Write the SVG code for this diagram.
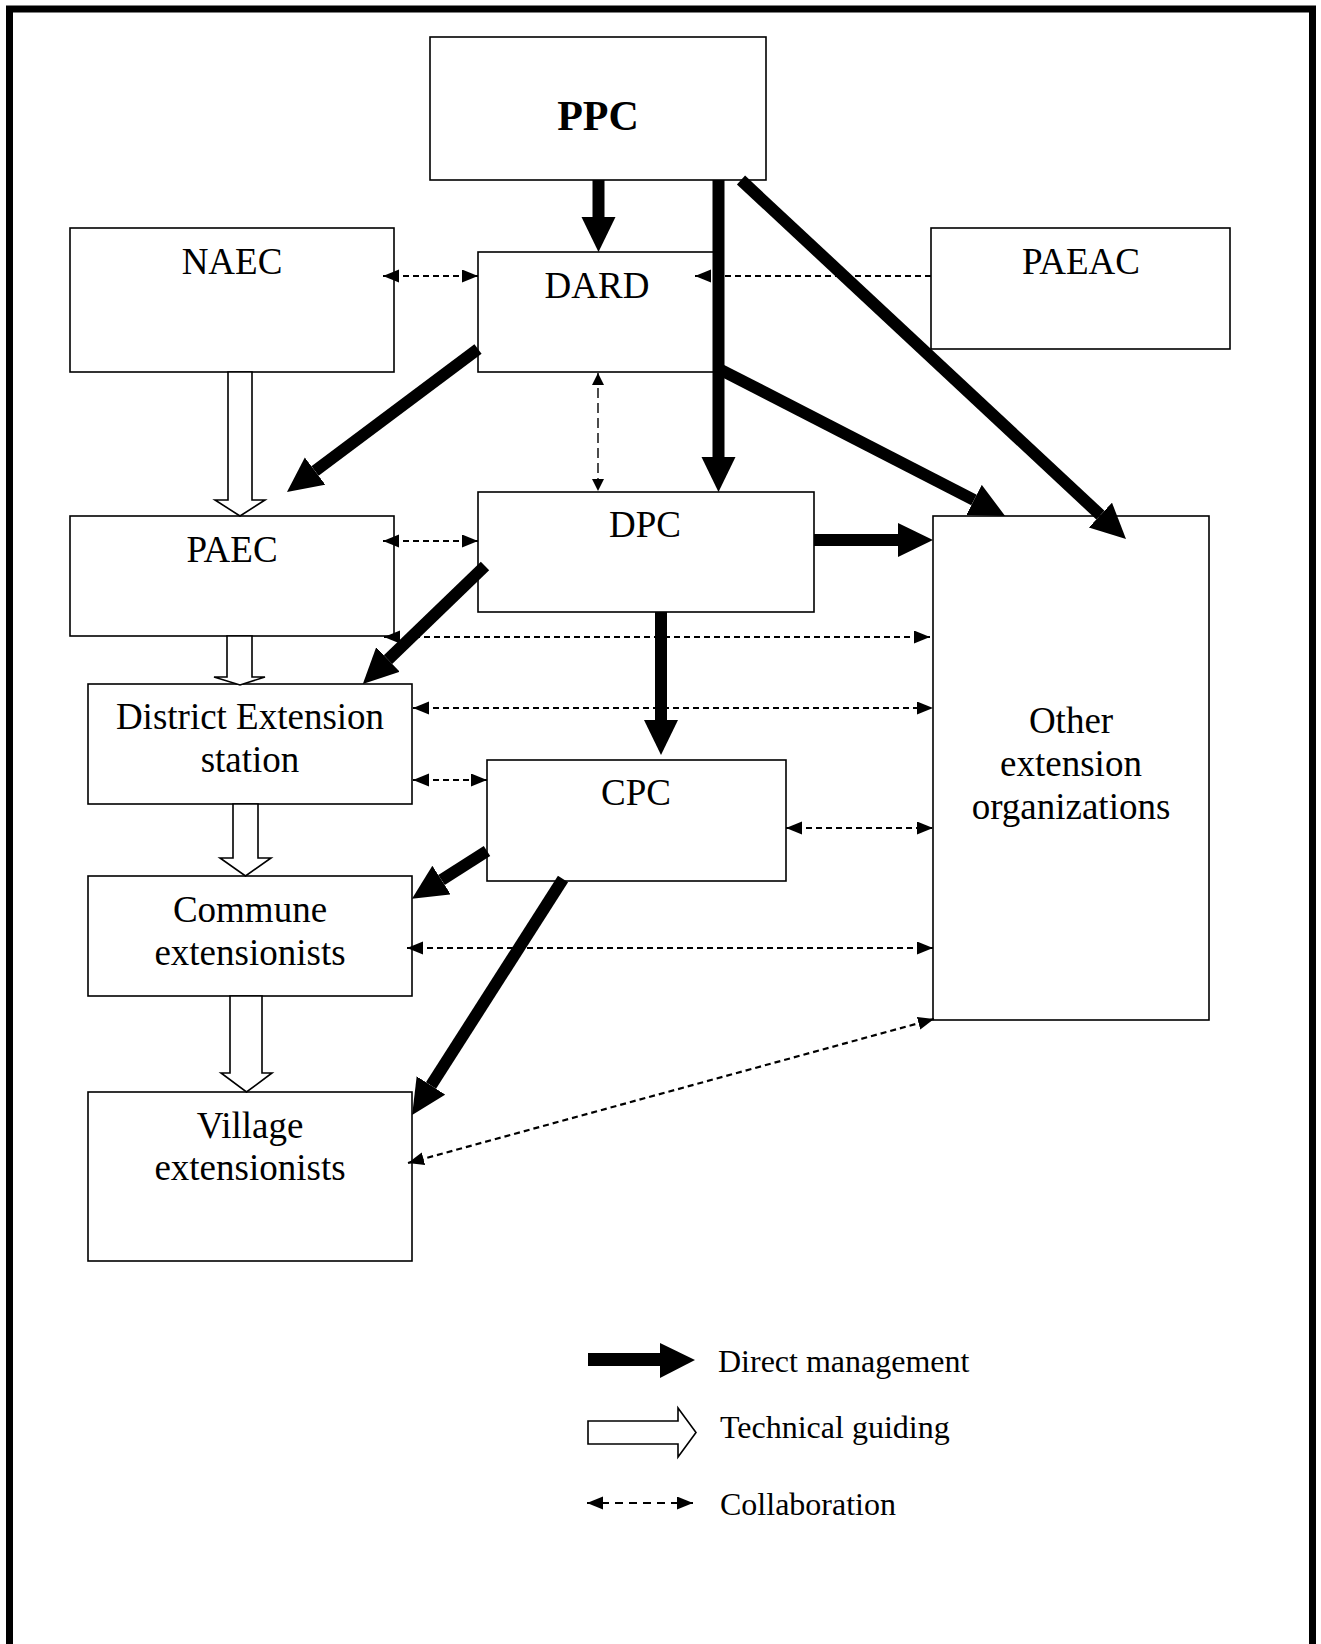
<svg xmlns="http://www.w3.org/2000/svg" width="1321" height="1644" viewBox="0 0 1321 1644">
<style>
.box{fill:#fff;stroke:#000;stroke-width:1.6}
.t{font-family:"Liberation Serif","Times New Roman",serif;font-size:37px;fill:#000;text-anchor:middle}
.tb{font-family:"Liberation Serif","Times New Roman",serif;font-size:42px;font-weight:bold;fill:#000;text-anchor:middle}
.lg{font-family:"Liberation Serif","Times New Roman",serif;font-size:32px;fill:#000}
.dm{stroke:#000;stroke-width:12;fill:none;marker-end:url(#dmh)}
.tg{fill:#fff;stroke:#000;stroke-width:1.6;stroke-linejoin:miter}
.co{stroke:#000;stroke-width:2.2;stroke-dasharray:6 4;fill:none;marker-start:url(#coh);marker-end:url(#coh)}
.co1{stroke:#000;stroke-width:2.2;stroke-dasharray:6 4;fill:none;marker-end:url(#coh)}
.cov{stroke:#000;stroke-width:1.4;stroke-dasharray:10 5;fill:none;marker-start:url(#cos);marker-end:url(#cos)}
.frame{stroke:#000;stroke-width:7;fill:none}
</style>
<defs>
<marker id="dmh" markerUnits="userSpaceOnUse" viewBox="0 0 36 35" markerWidth="36" markerHeight="35" refX="0" refY="17" orient="auto"><path d="M0,0 L35,17 L0,34 z" fill="#000"/></marker>
<marker id="coh" markerUnits="userSpaceOnUse" viewBox="0 0 17 14" markerWidth="17" markerHeight="14" refX="16" refY="6.5" orient="auto-start-reverse"><path d="M0,0 L16,6.5 L0,13 z" fill="#000"/></marker>
<marker id="cos" markerUnits="userSpaceOnUse" viewBox="0 0 13 13" markerWidth="13" markerHeight="13" refX="12" refY="6" orient="auto-start-reverse"><path d="M0,0 L12,6 L0,12 z" fill="#000"/></marker>
</defs>
<rect width="1321" height="1644" fill="#fff"/>
<g id="frame">
<path class="frame" d="M9.5,1644 V9 H1312.5 V1644"/>
</g>
<g id="PPC"><rect class="box" x="430" y="37" width="336" height="143"/><text class="tb" x="598" y="130">PPC</text></g>
<g id="NAEC"><rect class="box" x="70" y="228" width="324" height="144"/><text class="t" x="232" y="274">NAEC</text></g>
<g id="DARD"><rect class="box" x="478" y="252" width="236" height="120"/><text class="t" x="597" y="298">DARD</text></g>
<g id="PAEAC"><rect class="box" x="931" y="228" width="299" height="121"/><text class="t" x="1081" y="274">PAEAC</text></g>
<g id="PAEC"><rect class="box" x="70" y="516" width="324" height="120"/><text class="t" x="232" y="562">PAEC</text></g>
<g id="DPC"><rect class="box" x="478" y="492" width="336" height="120"/><text class="t" x="645" y="537">DPC</text></g>
<g id="Other"><rect class="box" x="933" y="516" width="276" height="504"/><text class="t" x="1071" y="733">Other</text><text class="t" x="1071" y="776">extension</text><text class="t" x="1071" y="819">organizations</text></g>
<g id="DES"><rect class="box" x="88" y="684" width="324" height="120"/><text class="t" x="250" y="729">District Extension</text><text class="t" x="250" y="772">station</text></g>
<g id="CPC"><rect class="box" x="487" y="760" width="299" height="121"/><text class="t" x="636" y="805">CPC</text></g>
<g id="Commune"><rect class="box" x="88" y="876" width="324" height="120"/><text class="t" x="250" y="922">Commune</text><text class="t" x="250" y="965">extensionists</text></g>
<g id="Village"><rect class="box" x="88" y="1092" width="324" height="169"/><text class="t" x="250" y="1138">Village</text><text class="t" x="250" y="1180">extensionists</text></g>
<g id="connectors">
<line class="dm" x1="598.5" y1="180" x2="598.5" y2="217"/>
<line class="dm" x1="718.5" y1="180" x2="718.5" y2="457"/>
<line class="dm" x1="741" y1="180" x2="1100.4" y2="515.1"/>
<line class="dm" x1="719" y1="369" x2="974" y2="500"/>
<line class="dm" x1="478" y1="349" x2="315" y2="471"/>
<line class="dm" x1="485" y1="566" x2="388" y2="659.6"/>
<line class="dm" x1="814" y1="540" x2="898" y2="540"/>
<line class="dm" x1="661" y1="612" x2="661" y2="720"/>
<line class="dm" x1="487" y1="851" x2="441.5" y2="880"/>
<line class="dm" x1="563" y1="879" x2="431" y2="1085.5"/>
<polygon class="tg" points="228,372 228,500 215,500 240,516 265,500 252,500 252,372"/>
<polygon class="tg" points="227,636 227,677 214,677 240,685 265,677 252,677 252,636"/>
<polygon class="tg" points="233,804 233,858 220,858 245.5,876 271,858 258,858 258,804"/>
<polygon class="tg" points="230,996 230,1073 221,1073 246.5,1092 272,1073 262,1073 262,996"/>
<line class="co" x1="383" y1="276" x2="478" y2="276"/>
<line class="co1" x1="931" y1="276" x2="695" y2="276"/>
<line class="cov" x1="598" y1="373" x2="598" y2="491"/>
<line class="co" x1="383" y1="541" x2="478" y2="541"/>
<line class="co" x1="384" y1="637" x2="930" y2="637"/>
<line class="co" x1="413" y1="708" x2="933" y2="708"/>
<line class="co" x1="413" y1="780" x2="487" y2="780"/>
<line class="co" x1="786" y1="828" x2="933" y2="828"/>
<line class="co" x1="407" y1="948" x2="933" y2="948"/>
<line class="co" x1="408" y1="1163" x2="934" y2="1019"/>
</g>
<g id="legend">
<rect x="588" y="1353" width="72" height="13" fill="#000"/>
<polygon points="660,1343 695,1360 660,1378" fill="#000"/>
<text class="lg" x="718" y="1372">Direct management</text>
<polygon class="tg" points="588,1421 678,1421 678,1408 696,1432.5 678,1457 678,1444 588,1444"/>
<text class="lg" x="720" y="1438">Technical guiding</text>
<line class="co" x1="587" y1="1503" x2="693" y2="1503" style="stroke-dasharray:8 6"/>
<text class="lg" x="720" y="1515">Collaboration</text>
</g>
</svg>
